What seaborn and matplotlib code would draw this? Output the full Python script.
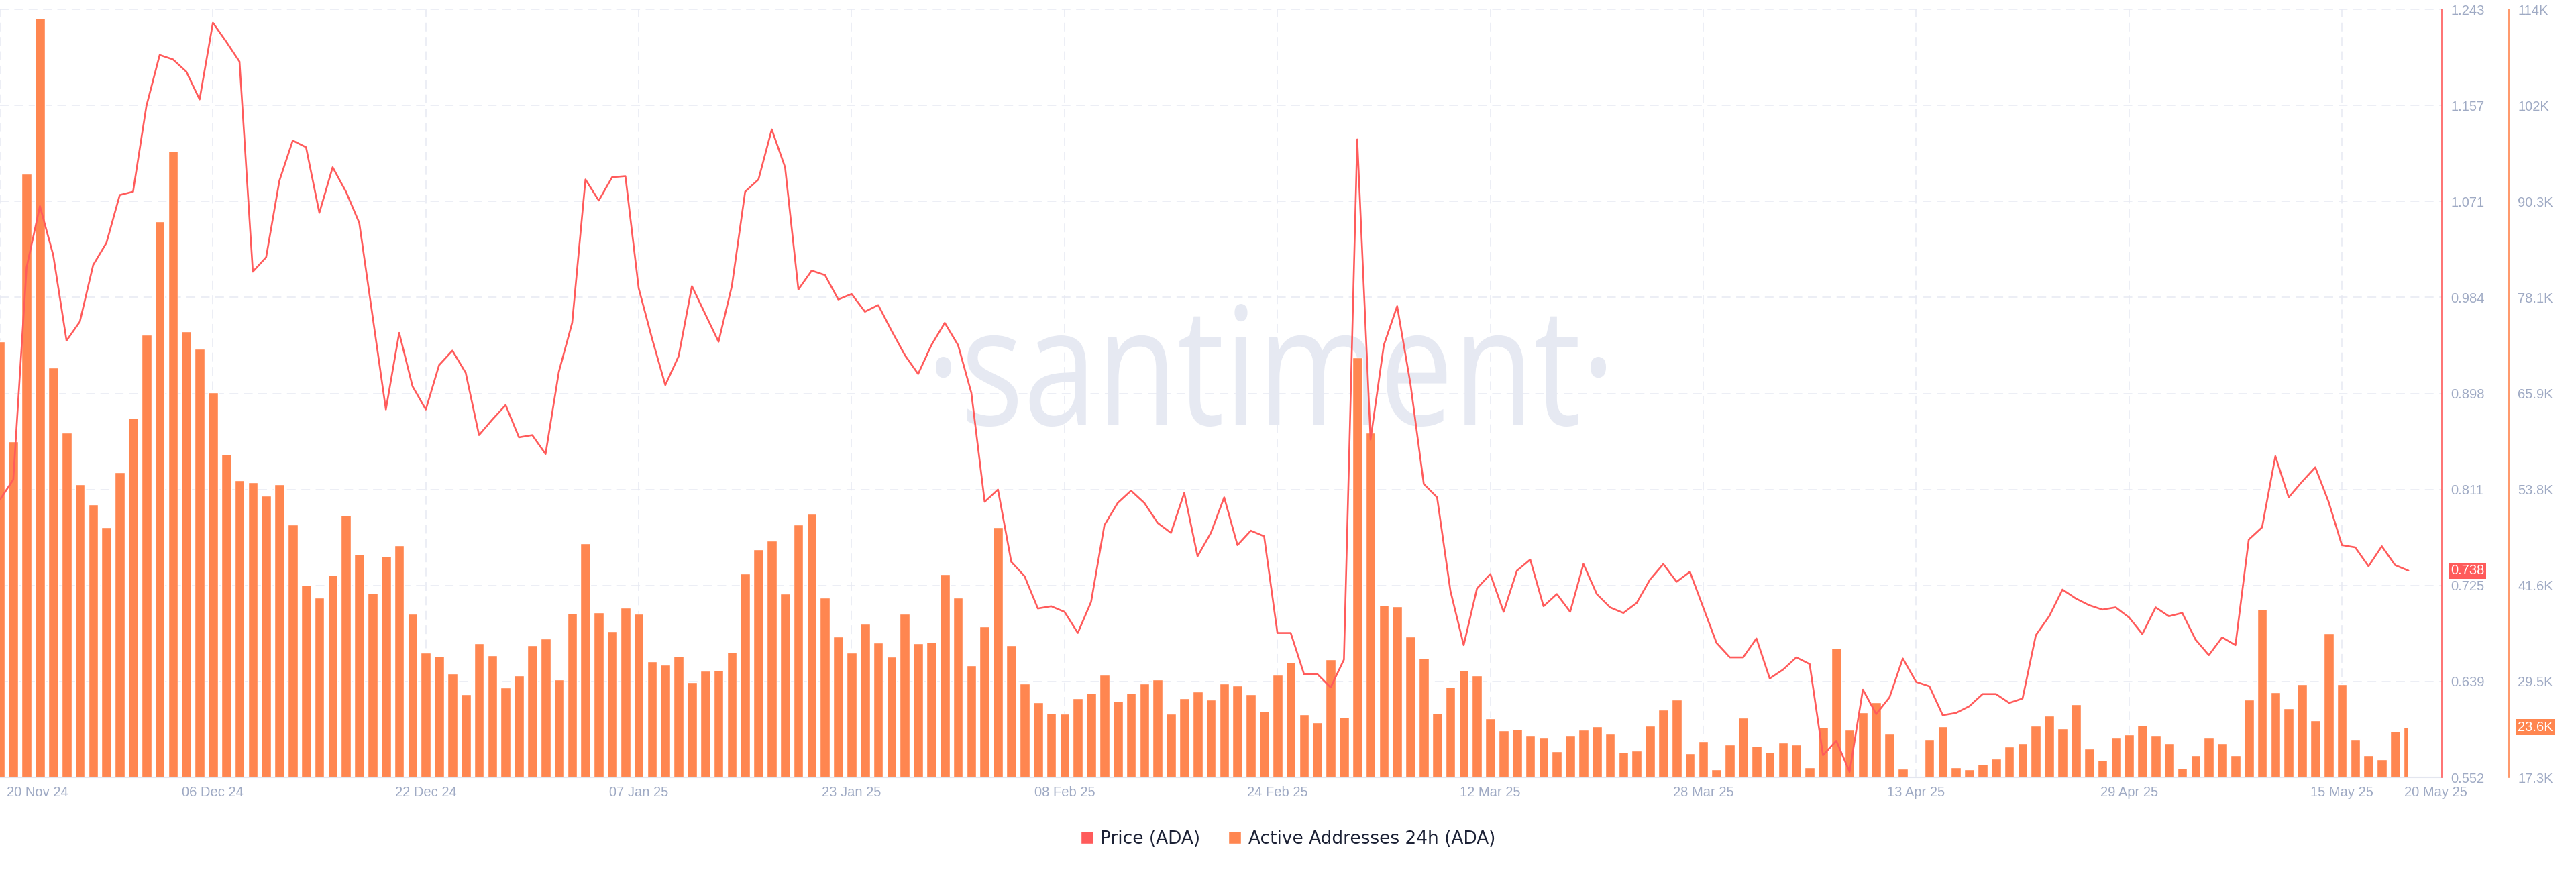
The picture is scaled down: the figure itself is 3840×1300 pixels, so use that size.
import numpy as np
import pandas as pd
import matplotlib
matplotlib.use('Agg')
import matplotlib.pyplot as plt
import seaborn as sns
from matplotlib.patches import Patch, PathPatch
from matplotlib.textpath import TextPath
from matplotlib.font_manager import FontProperties
from matplotlib.transforms import Affine2D, IdentityTransform, ScaledTranslation

# ---------------- data ----------------
dates = pd.date_range('2024-11-20', '2025-05-20', freq='D')

price = [
    0.802, 0.820, 1.011, 1.066, 1.022, 0.945, 0.962, 1.013, 1.033, 1.076,
    1.079, 1.156, 1.202, 1.198, 1.187, 1.162, 1.231, 1.214, 1.196, 1.007,
    1.020, 1.089, 1.125, 1.119, 1.060, 1.101, 1.079, 1.051, 0.967, 0.883,
    0.952, 0.904, 0.883, 0.923, 0.936, 0.916, 0.860, 0.874, 0.887, 0.858,
    0.860, 0.843, 0.917, 0.961, 1.090, 1.071, 1.092, 1.093, 0.992, 0.947,
    0.905, 0.931, 0.994, 0.969, 0.944, 0.994, 1.079, 1.090, 1.135, 1.101,
    0.991, 1.008, 1.004, 0.982, 0.987, 0.971, 0.977, 0.954, 0.932, 0.915,
    0.941, 0.961, 0.941, 0.898, 0.800, 0.811, 0.746, 0.733, 0.704, 0.706,
    0.701, 0.682, 0.710, 0.779, 0.799, 0.810, 0.799, 0.781, 0.772, 0.808,
    0.751, 0.772, 0.804, 0.761, 0.774, 0.769, 0.682, 0.682, 0.645, 0.645,
    0.633, 0.658, 1.126, 0.856, 0.941, 0.976, 0.906, 0.816, 0.804, 0.720,
    0.671, 0.722, 0.735, 0.701, 0.738, 0.748, 0.706, 0.717, 0.701, 0.744,
    0.717, 0.705, 0.700, 0.709, 0.730, 0.744, 0.728, 0.737, 0.705, 0.673,
    0.660, 0.660, 0.677, 0.641, 0.649, 0.660, 0.654, 0.572, 0.585, 0.557,
    0.631, 0.609, 0.624, 0.659, 0.638, 0.634, 0.608, 0.610, 0.616, 0.627,
    0.627, 0.619, 0.623, 0.680, 0.697, 0.721, 0.713, 0.707, 0.703, 0.705,
    0.696, 0.681, 0.705, 0.697, 0.700, 0.676, 0.662, 0.678, 0.671, 0.766,
    0.777, 0.841, 0.804, 0.818, 0.831, 0.800, 0.761, 0.759, 0.742, 0.760,
    0.743, 0.738,
]

# active addresses, thousands
active_k = [
    72.2, 59.6, 93.3, 112.9, 68.9, 60.7, 54.2, 51.7, 48.8, 55.7,
    62.6, 73.0, 87.3, 96.2, 73.5, 71.3, 65.8, 58.0, 54.7, 54.5,
    52.8, 54.2, 49.1, 41.5, 39.9, 42.8, 50.3, 45.4, 40.5, 45.2,
    46.5, 37.9, 33.0, 32.6, 30.4, 27.8, 34.2, 32.7, 28.6, 30.1,
    33.9, 34.8, 29.6, 38.0, 46.8, 38.1, 35.7, 38.7, 37.9, 31.9,
    31.5, 32.6, 29.3, 30.7, 30.8, 33.1, 43.0, 46.0, 47.1, 40.4,
    49.1, 50.5, 39.9, 35.0, 33.0, 36.6, 34.3, 32.5, 37.9, 34.2,
    34.4, 42.9, 39.9, 31.4, 36.3, 48.8, 33.9, 29.1, 26.8, 25.4,
    25.3, 27.3, 27.9, 30.2, 26.9, 27.9, 29.1, 29.6, 25.3, 27.3,
    28.1, 27.1, 29.1, 28.9, 27.8, 25.7, 30.2, 31.8, 25.2, 24.2,
    32.2, 24.9, 70.2, 60.7, 39.0, 38.8, 35.0, 32.3, 25.4, 28.7,
    30.8, 30.1, 24.7, 23.2, 23.4, 22.6, 22.4, 20.6, 22.6, 23.3,
    23.7, 22.8, 20.5, 20.7, 23.8, 25.8, 27.1, 20.3, 21.9, 18.3,
    21.4, 24.8, 21.3, 20.5, 21.7, 21.4, 18.6, 23.6, 33.6, 23.3,
    25.5, 26.8, 22.8, 18.4, 17.4, 22.1, 23.7, 18.6, 18.3, 19.0,
    19.7, 21.2, 21.6, 23.8, 25.1, 23.5, 26.5, 20.9, 19.5, 22.4,
    22.7, 23.9, 22.6, 21.6, 18.5, 20.1, 22.4, 21.6, 20.1, 27.1,
    38.5, 28.0, 26.0, 29.0, 24.5, 35.5, 29.0, 22.1, 20.1, 19.6,
    23.1, 23.6,
]

price_ticks = ['0.552', '0.639', '0.725', '0.811', '0.898', '0.984', '1.071', '1.157', '1.243']
active_ticks = ['17.3K', '29.5K', '41.6K', '53.8K', '65.9K', '78.1K', '90.3K', '102K', '114K']
tick_dates = pd.date_range('2024-11-20', periods=12, freq='16D')
end_label = '20 May 25'
series_names = ['Price (ADA)', 'Active Addresses 24h (ADA)']

RED = '#ff5b5b'
ORANGE = '#ff8650'
GREY = '#9faac4'
GRID = '#e7eaf3'

sns.set_theme(style='white')
plt.rcParams['font.family'] = ['Liberation Sans', 'DejaVu Sans']

df = pd.DataFrame({'day': (dates - dates[0]).days,
                   'price': price,
                   'active': np.array(active_k) * 1000})

fig = plt.figure(figsize=(38.4, 13), dpi=100)
ax = fig.add_axes([0, 0.10846, 0.94792, 0.88077])

# bars: active addresses
sns.barplot(data=df, x='day', y='active', native_scale=True, color=ORANGE,
            saturation=1, width=0.74, errorbar=None, ax=ax)
# last (current) day is only drawn as half a bar
last_bar = max(ax.patches, key=lambda p: p.get_x())
last_bar.set_width(last_bar.get_width() / 2)

# price line on its own axis
axp = ax.twinx()
sns.lineplot(data=df, x='day', y='price', ax=axp, color=RED, lw=1.9)

lo_a = float(active_ticks[0][:-1]) * 1000
hi_a = float(active_ticks[-1][:-1]) * 1000
lo_p, hi_p = float(price_ticks[0]), float(price_ticks[-1])
ax.set_xlim(0, 183.51)
ax.set_ylim(lo_a, hi_a)
axp.set_ylim(lo_p, hi_p)

# y axes, both on the right
axp.set_yticks(np.linspace(lo_p, hi_p, len(price_ticks)), price_ticks)
ax.set_yticks(np.linspace(lo_a, hi_a, len(active_ticks)), active_ticks)
ax.yaxis.tick_right()
ax.spines['right'].set_position(('outward', 72))
for a in (ax, axp):
    a.tick_params(axis='y', length=0, pad=9.4, labelsize=14.5, labelcolor=GREY)
    a.set_xlabel('')
    a.set_ylabel('')

for s in ['top', 'left']:
    ax.spines[s].set_visible(False)
ax.spines['right'].set_color(ORANGE)
ax.spines['right'].set_linewidth(1.2)
ax.spines['bottom'].set_color('#e3e6ef')
ax.spines['bottom'].set_linewidth(1.5)
for s in ['top', 'left', 'bottom']:
    axp.spines[s].set_visible(False)
axp.spines['right'].set_color(RED)
axp.spines['right'].set_linewidth(1.2)

# x axis: dates every 16 days + end date
tick_days = (tick_dates - dates[0]).days
ax.set_xticks(tick_days, [d.strftime('%d %b %y') for d in tick_dates])
ax.set_xticks([(dates[-1] - dates[0]).days], [end_label], minor=True)
ax.tick_params(axis='x', which='both', length=0, pad=9, labelsize=14.5, labelcolor=GREY)
first = ax.get_xticklabels()[0]
first.set_ha('left')
first.set_transform(first.get_transform() + ScaledTranslation(0.10, 0, fig.dpi_scale_trans))
endlab = ax.get_xticklabels(minor=True)[0]
endlab.set_ha('left')
endlab.set_transform(endlab.get_transform() + ScaledTranslation(-0.06, 0, fig.dpi_scale_trans))

# dashed grid
ax.set_axisbelow(True)
ax.grid(axis='y', color=GRID, lw=1.1, linestyle=(0, (8.5, 5.5)))
ax.grid(axis='x', which='major', color=GRID, lw=1.1, linestyle=(0, (8.5, 5.5)))

# watermark
tp = TextPath((0, 0), '\u00b7santiment\u00b7', size=100, prop=FontProperties(family='Open Sans'))
bb = tp.get_extents()
wm = Affine2D().translate(-bb.x0, -bb.y0).scale(999 / bb.width, 183 / bb.height).translate(1395, 664)
ax.add_patch(PathPatch(wm.transform_path(tp), transform=IdentityTransform(),
                       fc='#e6e9f2', ec='none', zorder=0.3))

# last-value badges
axp.annotate(f'{price[-1]:.3f}', xy=(1, price[-1]), xycoords=('axes fraction', 'data'),
             xytext=(9.4, 0), textcoords='offset points', ha='left', va='center',
             fontsize=14.5, color='white', annotation_clip=False,
             bbox=dict(boxstyle='square,pad=0.12', fc=RED, ec='none'))
ax.annotate(f'{active_k[-1]:.1f}K', xy=(1, active_k[-1] * 1000), xycoords=('axes fraction', 'data'),
            xytext=(81.4, 0), textcoords='offset points', ha='left', va='center',
            fontsize=14.5, color='white', annotation_clip=False,
            bbox=dict(boxstyle='square,pad=0.12', fc=ORANGE, ec='none'))

# legend
fig.legend(handles=[Patch(fc=RED, label=series_names[0]),
                    Patch(fc=ORANGE, label=series_names[1])],
           loc='center', bbox_to_anchor=(0.5, 0.0377), ncol=2, frameon=False,
           prop={'family': 'DejaVu Sans', 'size': 19}, labelcolor='#1c2135',
           handlelength=0.72, handleheight=0.72, handletextpad=0.4, columnspacing=1.6)

fig.savefig('out.png', dpi=100, facecolor='white')
